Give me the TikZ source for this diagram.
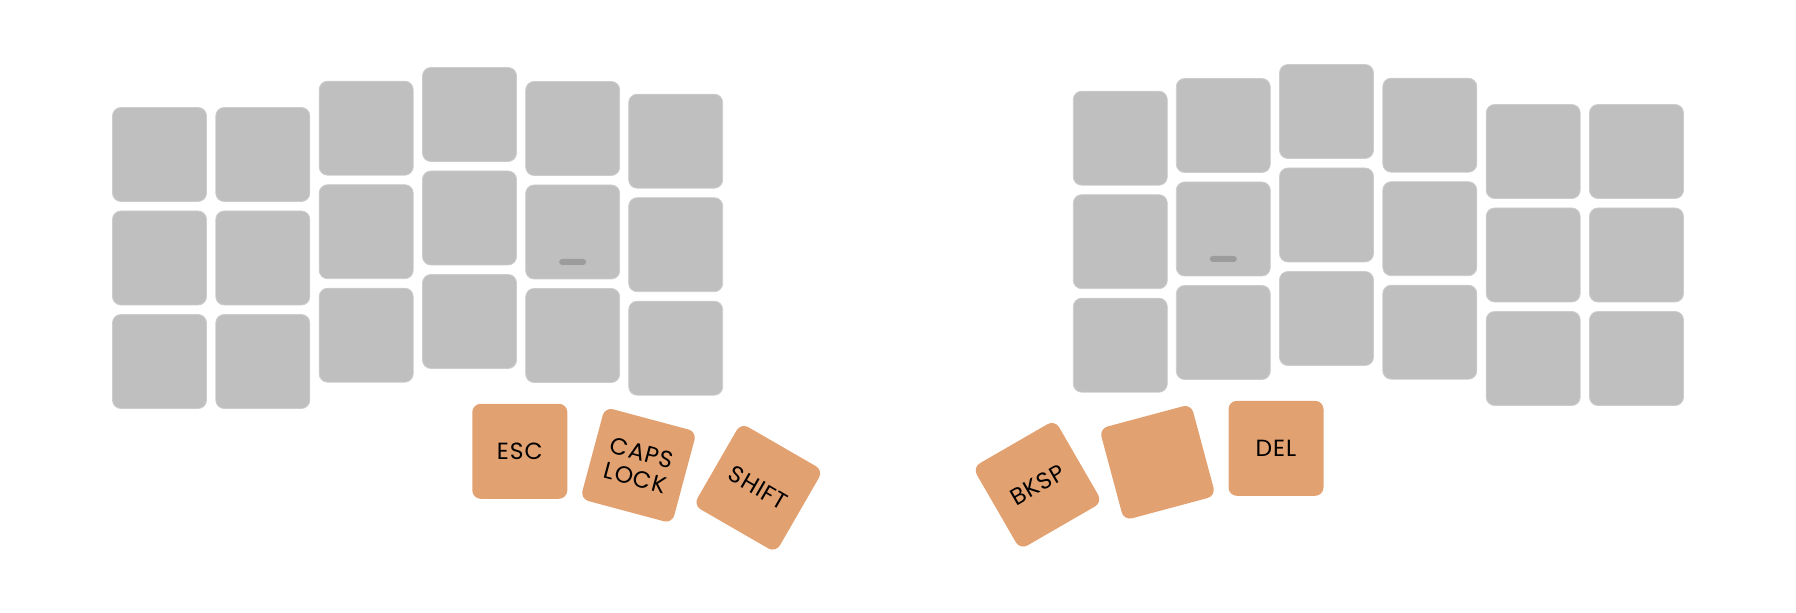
\documentclass[tikz,border=0pt]{standalone}
\usepackage{fontspec}
\setmainfont{Poppins}
\newfontfamily\keyfont[LetterSpace=4]{Poppins}
\definecolor{keygray}{HTML}{BFBFBF}
\definecolor{keyedge}{HTML}{CDCDCD}
\definecolor{thumb}{HTML}{E2A171}
\definecolor{barcol}{HTML}{9C9C9C}
\begin{document}
\begin{tikzpicture}[x=0.5pt,y=-0.5pt,
  graykey/.style={fill=keygray,draw=keyedge,line width=0.4pt,rounded corners=4.2pt,minimum size=47pt,inner sep=0pt},
  thumbkey/.style={fill=thumb,rounded corners=4.2pt,minimum size=47.5pt,inner sep=0pt,
    font=\keyfont\fontsize{11.7}{13}\selectfont,align=center,text=black},
  homebar/.style={fill=barcol,rounded corners=1.5pt,minimum width=13.5pt,minimum height=3pt,inner sep=0pt}]
\useasboundingbox (0,0) rectangle (1796,613);
% left half
\foreach \c/\x/\y in {1/159.5/154.5,2/262.8/154.5,3/366.2/128.2,4/469.5/114.5,5/572.7/128.5,6/675.7/141.2}{
  \foreach \r in {0,1,2}{
    \node[graykey] (L\c\r) at (\x,{\y+103.5*\r}) {};
  }
}
% right half
\foreach \c/\x/\y in {1/1120.3/138.2,2/1223.3/125.5,3/1326.5/111.5,4/1429.8/125.2,5/1533.2/151.5,6/1636.5/151.5}{
  \foreach \r in {0,1,2}{
    \node[graykey] (R\c\r) at (\x,{\y+103.5*\r}) {};
  }
}
% homing bars
\node[homebar] (barL) at ([yshift=-15pt]L51.center) {};
\node[homebar] (barR) at ([yshift=-15pt]R21.center) {};
% thumb keys
\node[thumbkey] (esc) at (519.8,451.3) {ESC};
\node[thumbkey,rotate=-15] (caps) at (638.5,465.3) {CAPS\\LOCK};
\node[thumbkey,rotate=-30] (shift) at (758.3,487.8) {SHIFT};
\node[thumbkey,rotate=30] (bksp) at (1037.5,484.8) {BKSP};
\node[thumbkey,rotate=15] (mid) at (1157.5,462.3) {};
\node[thumbkey] (del) at (1276,448.3) {DEL};
\end{tikzpicture}
\end{document}
